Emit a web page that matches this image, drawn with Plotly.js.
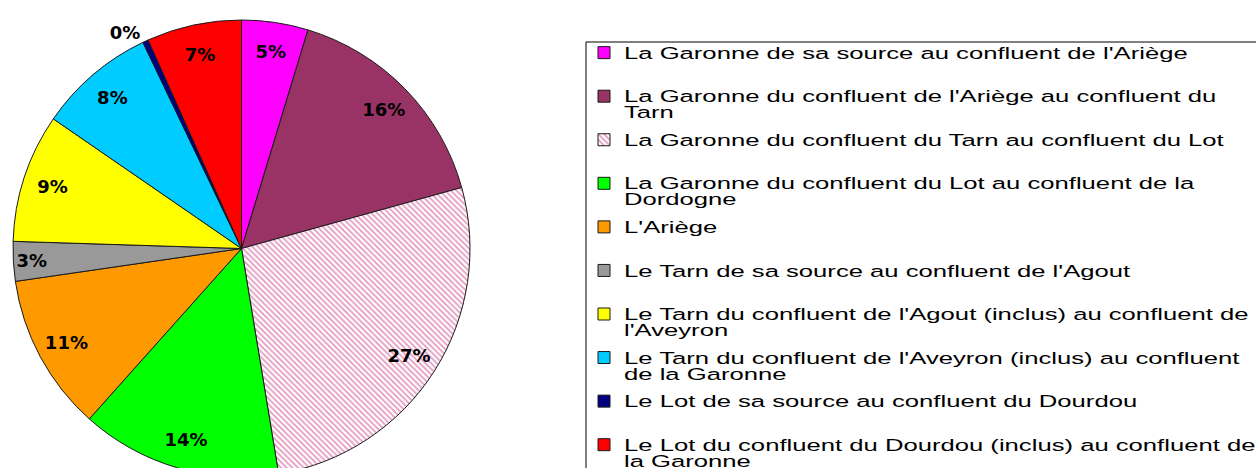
<!DOCTYPE html>
<html>
<head>
<meta charset="utf-8">
<script src="https://cdn.plot.ly/plotly-3.0.1.min.js"></script>
<style>
html, body { margin: 0; padding: 0; overflow: hidden; background: #fff; }
#chart { width: 1256px; height: 490px; }
</style>
</head>
<body>
<div id="chart"></div>
<script>
// Data
const categories = [
  "La Garonne de sa source au confluent de l'Ariège",
  "La Garonne du confluent de l'Ariège au confluent du<br>Tarn",
  "La Garonne du confluent du Tarn au confluent du Lot",
  "La Garonne du confluent du Lot au confluent de la<br>Dordogne",
  "L'Ariège",
  "Le Tarn de sa source au confluent de l'Agout",
  "Le Tarn du confluent de l'Agout (inclus) au confluent de<br>l'Aveyron",
  "Le Tarn du confluent de l'Aveyron (inclus) au confluent<br>de la Garonne",
  "Le Lot de sa source au confluent du Dourdou",
  "Le Lot du confluent du Dourdou (inclus) au confluent de<br>la Garonne"
];
const shares = [4.7, 16.0, 26.7, 14.2, 11.1, 2.8, 9.1, 8.3, 0.4, 6.7];

// Styles
const sliceColors = ["#FF00FF", "#993366", "#FFFFFF", "#00FF00", "#FF9900",
                     "#999999", "#FFFF00", "#00CCFF", "#000080", "#FF0000"];
const patternShapes = ["", "", "\\", "", "", "", "", "", "", ""];
// which slice labels sit outside the pie (the tiny slice)
const outsideLabel = [false, false, false, false, false, false, false, false, true, false];

// pad single-line legend entries to two lines so all entries share the same height
const legendLabels = categories.map(c => c.indexOf("<br>") >= 0 ? c : c + "<br> ");

const W = 1256, H = 490;
const pieDomain = { x: [13 / W, 470 / W], y: [(H - 477) / H, (H - 20) / H] };
const pctFont = { family: "DejaVu Sans, Liberation Sans, sans-serif", size: 18, color: "#000", weight: "bold" };

// main pie (slices + the outside label of the tiny slice)
const mainPie = {
  type: "pie",
  labels: legendLabels,
  values: shares,
  sort: false,
  direction: "clockwise",
  rotation: 0,
  marker: {
    colors: sliceColors,
    line: { color: "#1a1a1a", width: 1 },
    pattern: { shape: patternShapes, fgcolor: "#E49ABF", bgcolor: "#FFFFFF", size: 4, solidity: 0.45 }
  },
  texttemplate: outsideLabel.map(o => o ? "%{percent:.0%}" : ""),
  textposition: outsideLabel.map(o => o ? "outside" : "none"),
  textfont: pctFont,
  outsidetextfont: pctFont,
  domain: pieDomain,
  hoverinfo: "label+percent"
};

// transparent ring of the same pie carrying the inside labels near the rim
const labelRing = {
  type: "pie",
  labels: legendLabels,
  values: shares,
  sort: false,
  direction: "clockwise",
  rotation: 0,
  hole: 0.74,
  showlegend: false,
  marker: { colors: sliceColors.map(() => "rgba(0,0,0,0)"), line: { width: 0 } },
  texttemplate: outsideLabel.map(o => o ? "" : "%{percent:.0%}"),
  textposition: "inside",
  insidetextorientation: "horizontal",
  textfont: pctFont,
  domain: pieDomain,
  hoverinfo: "skip"
};

const layout = {
  width: W,
  height: H,
  margin: { l: 0, r: 0, t: 0, b: 0 },
  paper_bgcolor: "#fff",
  showlegend: true,
  legend: {
    x: 584 / W, xanchor: "left",
    y: (H - 36) / H, yanchor: "top",
    valign: "top",
    font: { family: "Liberation Sans, Arial, sans-serif", size: 15.6, color: "#000" },
    bgcolor: "rgba(0,0,0,0)",
    borderwidth: 0
  },
  shapes: [{
    type: "rect", xref: "paper", yref: "paper",
    x0: 586 / W, x1: 1.02, y0: -0.05, y1: (H - 42) / H,
    line: { color: "#000", width: 1 }, fillcolor: "rgba(0,0,0,0)"
  }]
};

Plotly.newPlot("chart", [mainPie, labelRing], layout, { displayModeBar: false, staticPlot: true }).then(gd => {
  // the source legend text is horizontally stretched and tightly leaded
  const S = 1.645, LEAD = 16;
  gd.querySelectorAll(".legend .scrollbox").forEach(el => el.removeAttribute("clip-path"));
  gd.querySelectorAll(".legendtext").forEach(t => {
    const x = parseFloat(t.getAttribute("x")) || 40;
    const lines = t.querySelectorAll("tspan.line");
    if (lines.length > 1) {
      const y0 = lines[0].getBBox().y;
      const y1 = lines[1].getBBox().y;
      const shift = (y1 - y0) - LEAD;
      const cur = parseFloat(lines[1].getAttribute("y"));
      if (!isNaN(cur)) {
        lines[1].setAttribute("y", cur - shift);
      } else {
        const dy = lines[1].getAttribute("dy") || "0";
        lines[1].setAttribute("dy", (parseFloat(dy) * 15.6 - shift) + "px");
      }
    }
    const prev = t.getAttribute("transform") || "";
    t.setAttribute("transform", (prev + " translate(" + (x * (1 - S)) + ",0) scale(" + S + ",1)").trim());
  });
});
</script>
</body>
</html>
